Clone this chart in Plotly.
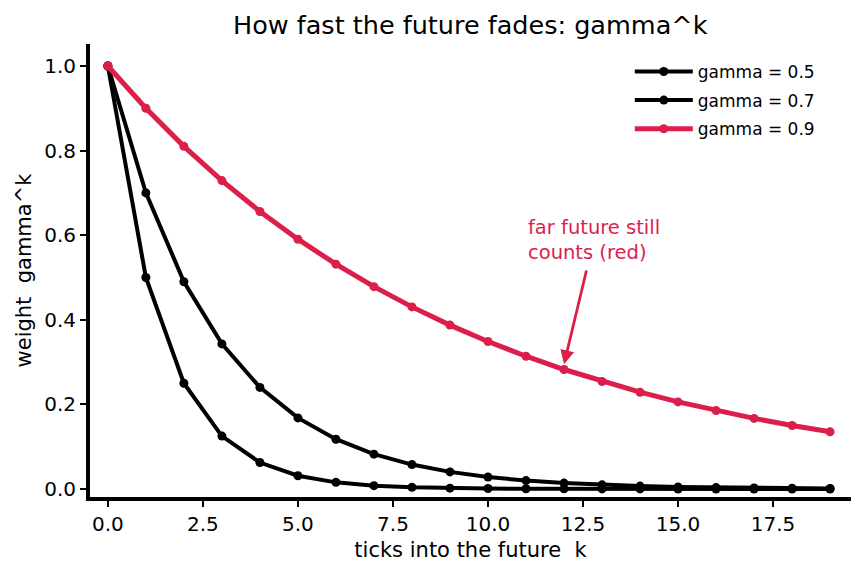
import plotly.graph_objects as go

k = list(range(20))
w_05 = [1.0, 0.5, 0.25, 0.125, 0.0625, 0.03125, 0.015625, 0.0078125, 0.0039063, 0.0019531,
        0.0009766, 0.0004883, 0.0002441, 0.0001221, 0.000061, 0.0000305, 0.0000153, 0.0000076,
        0.0000038, 0.0000019]
w_07 = [1.0, 0.7, 0.49, 0.343, 0.2401, 0.16807, 0.117649, 0.0823543, 0.057648, 0.040354,
        0.028248, 0.019773, 0.013841, 0.009689, 0.006782, 0.004748, 0.003323, 0.002326,
        0.001628, 0.00114]
w_09 = [1.0, 0.9, 0.81, 0.729, 0.6561, 0.59049, 0.531441, 0.478297, 0.430467, 0.38742,
        0.348678, 0.313811, 0.28243, 0.254187, 0.228768, 0.205891, 0.185302, 0.166772,
        0.150095, 0.135085]
names = ["gamma = 0.5", "gamma = 0.7", "gamma = 0.9"]
RED = "#DC1E4B"
FONT = "DejaVu Sans"

fig = go.Figure()
for ys, name, color, lw in [(w_05, names[0], "black", 4), (w_07, names[1], "black", 4),
                            (w_09, names[2], RED, 5)]:
    fig.add_trace(go.Scatter(x=k, y=ys, name=name, mode="lines+markers", legendgroup=name,
                             line=dict(color=color, width=lw),
                             marker=dict(color=color, size=9)))

fig.add_annotation(x=12, y=0.295, ax=12.6, ay=0.52, xref="x", yref="y", axref="x", ayref="y",
                   text="", showarrow=True, arrowhead=2, arrowsize=1, arrowwidth=2.8,
                   arrowcolor=RED)
fig.add_annotation(x=11, y=0.527, xref="x", yref="y", text="far future still<br>counts (red)",
                   showarrow=False, xanchor="left", yanchor="bottom", align="left",
                   font=dict(family=FONT, size=19.5, color=RED))

fig.update_layout(
    width=862, height=573,
    margin=dict(l=90, r=11, t=44, b=76),
    paper_bgcolor="white", plot_bgcolor="white",
    font=dict(family=FONT, size=20, color="black"),
    title=dict(text="How fast the future fades: gamma^k", x=0.5455, xanchor="center",
               y=0.957, yanchor="middle", font=dict(family=FONT, size=25.5, color="black")),
    showlegend=True,
    legend=dict(x=0.959, y=0.978, xanchor="right", yanchor="top", bgcolor="rgba(0,0,0,0)",
                font=dict(family=FONT, size=17, color="black"), itemwidth=58,
                traceorder="grouped", tracegroupgap=3.5),
)
fig.update_xaxes(range=[-0.47, 19.55], tickmode="linear", tick0=0, dtick=2.5, tickformat=".1f",
                 showgrid=False, zeroline=False, showline=True, linecolor="black", linewidth=4,
                 ticks="outside", ticklen=6, tickwidth=1.5, tickcolor="black",
                 tickfont=dict(family=FONT, size=20),
                 title=dict(text="ticks into the future  k", font=dict(family=FONT, size=21), standoff=8))
fig.update_yaxes(range=[-0.019, 1.052], tickmode="linear", tick0=0, dtick=0.2, tickformat=".1f",
                 showgrid=False, zeroline=False, showline=True, linecolor="black", linewidth=4,
                 ticks="outside", ticklen=6, tickwidth=1.5, tickcolor="black",
                 tickfont=dict(family=FONT, size=20),
                 title=dict(text="weight  gamma^k", font=dict(family=FONT, size=21), standoff=8))

fig.write_html("out.html")
